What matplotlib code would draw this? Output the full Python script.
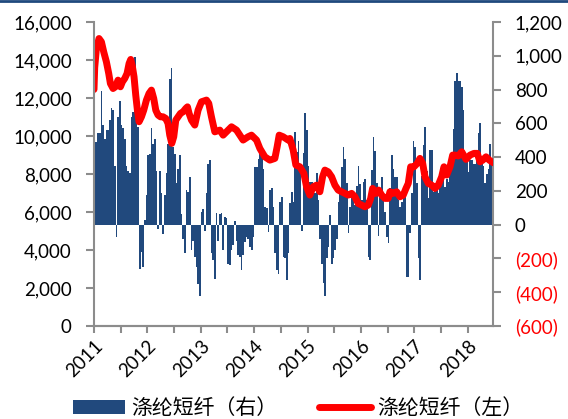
import matplotlib
matplotlib.use("Agg")
import matplotlib.pyplot as plt
import numpy as np
from matplotlib.lines import Line2D
from matplotlib.patches import Patch
from matplotlib.ticker import FuncFormatter, MultipleLocator

plt.rcParams['font.family'] = ['Lato', 'Noto Sans CJK SC', 'DejaVu Sans']

# bars (right axis), roughly weekly spacing from start of 2011
bar_v = [
    490, 490, 540, 540, 790, 590, 510, 560, 560, 620,
    690, 680, 350, -75, 640, 730, 590, 575, 510, 345,
    315, 305, 640, 670, 990, 660, 580, -260, -160, -250,
    25, 175, 410, 420, 570, 480, 510, 315, -25, 315,
    185, -55, 175, 305, 475, 860, 930, 460, 420, 245,
    330, 410, 65, -85, -170, 205, 195, 285, -150, -95,
    -190, -250, -350, -420, 75, 90, -35, 185, 360, 385,
    -170, -210, -320, 70, -95, 65, 70, -150, 45, 40,
    -230, -240, -150, -120, 20, -95, -180, -190, -270, -180,
    -100, -75, -85, -130, -150, -75, 340, 340, 390, 420,
    460, 330, 105, 100, -45, 205, 215, 105, -170, -270,
    -290, 135, 165, -190, -200, -330, -170, 130, 195, 135,
    550, 430, 495, 350, -40, 425, 660, 560, 350, 250,
    255, 245, 185, 305, 145, -85, -230, -345, -420, -200,
    -130, 55, -230, -200, -150, -85, 135, 185, 340, 460,
    390, 245, -50, 105, 155, 145, 115, 230, 350, 240,
    145, 250, 270, 145, -190, -210, 325, 520, 435, 245,
    -65, 195, 280, 155, 75, -75, -110, 215, 410, 330,
    280, 280, 145, 105, 135, 165, 195, -310, -310, -50,
    190, 495, 460, 245, -200, -330, 290, 470, 580, 320,
    155, 445, 445, 195, 205, 215, 185, 245, 280, 330,
    225, 270, 250, 320, 430, 565, 850, 900, 850, 850,
    815, 680, 380, 400, 310, 380, 380, 360, 360, 390,
    540, 600, 360, 350, 245, 300, 330, 480, 380,
]

# red line (left axis): time in years since 2011, price
line_t = [
    0.0, 0.013, 0.045, 0.094, 0.139, 0.182, 0.232, 0.276, 0.307, 0.357,
    0.401, 0.45, 0.495, 0.532, 0.576, 0.619, 0.657, 0.688, 0.72, 0.75,
    0.782, 0.813, 0.844, 0.889, 0.932, 0.982, 1.031, 1.076, 1.119, 1.157,
    1.2, 1.245, 1.294, 1.344, 1.387, 1.419, 1.457, 1.494, 1.532, 1.575,
    1.62, 1.669, 1.719, 1.751, 1.781, 1.826, 1.869,
    1.888, 1.95, 2.013, 2.107, 2.150, 2.2, 2.263, 2.357, 2.419, 2.512,
    2.576, 2.67, 2.793, 2.887, 2.95, 3.045, 3.107, 3.2, 3.294, 3.388,
    3.431, 3.469, 3.543, 3.637,
    3.669, 3.731, 3.781, 3.856, 3.931, 3.982, 4.044, 4.106, 4.169, 4.231,
    4.282, 4.325, 4.387, 4.451, 4.513, 4.574, 4.638, 4.7, 4.762, 4.826,
    4.888, 4.949, 5.013, 5.075, 5.137, 5.182, 5.219, 5.281, 5.332, 5.388,
    5.45, 5.512,
    5.544, 5.606, 5.669, 5.731, 5.793, 5.844, 5.887, 5.932, 5.994, 6.056,
    6.106, 6.157, 6.2, 6.262, 6.326, 6.387, 6.449, 6.513, 6.556, 6.607,
    6.669, 6.719, 6.762, 6.824, 6.888, 6.969, 7.044, 7.119, 7.18, 7.231,
    7.282, 7.344, 7.405, 7.48,
]
line_v = [
    12450, 13600, 14605, 15130, 14955, 14430, 13905, 13290, 12765, 12500,
    12590, 12940, 12590, 12850, 13030, 13290, 13815, 14030, 13640, 13115,
    12150, 11360, 10750, 11010, 11360, 11890, 12240, 12415, 11975, 11360,
    11100, 11010, 11010, 10925, 10660, 10045, 9610, 9960, 10835, 11010,
    11190, 11275, 11450, 11535, 11190, 10835, 10660,
    10575, 11360, 11800, 11890, 11715, 11010, 10220, 10310, 10045, 10310,
    10485, 10310, 9785, 9960, 10045, 9785, 9345, 8905, 8730, 8820,
    9435, 10045, 9960, 9785,
    9870, 9260, 8470, 8380, 8030, 7330, 6890, 7330, 7415, 7065,
    7855, 8205, 8115, 7855, 7415, 7155, 7065, 6980, 6890, 6980,
    6800, 6450, 6365, 6275, 6365, 6700, 7240, 6980, 7155, 6890,
    6715, 6715,
    7065, 6980, 7065, 6800, 6890, 7240, 7505, 8380, 8380, 8560,
    8820, 8560, 7855, 7505, 7415, 7240, 7415, 7855, 8380, 7945,
    8380, 8995, 8995, 8950, 9170, 8770, 8995, 9085, 9085, 8640,
    8730, 8905, 8730, 8590,
]

years = [2011, 2012, 2013, 2014, 2015, 2016, 2017, 2018]
label_bar = '涤纶短纤（右）'
label_line = '涤纶短纤（左）'

bar_color = '#21497D'
red = '#FF0000'
grey = '#8C8C8C'

x_end = 2011 + 7.48
step = 7.47 / len(bar_v)
bar_t = 2011 + (np.arange(len(bar_v)) + 0.5) * step
line_x = 2011 + np.array(line_t)

fig = plt.figure(figsize=(5.68, 4.19), dpi=100)
ax = fig.add_axes([94 / 568, 1 - 326 / 419, (493.3 - 94) / 568, (326 - 22) / 419])
ax2 = ax.twinx()

ax2.bar(bar_t, bar_v, width=step, color=bar_color, linewidth=0)
ax.plot(line_x, line_v, color=red, lw=5, solid_capstyle='round', solid_joinstyle='round')

ax.set_zorder(ax2.get_zorder() + 1)
ax.patch.set_visible(False)

ax.set_xlim(2011, x_end)
ax.set_ylim(0, 16000)
ax2.set_ylim(-600, 1200)
ax.set_yticks(range(0, 16001, 2000))
ax2.set_yticks(range(-600, 1201, 200))
ax.yaxis.set_major_formatter(FuncFormatter(lambda v, p: f'{v:,.0f}'))
ax2.yaxis.set_major_formatter(
    FuncFormatter(lambda v, p: f'{v:,.0f}' if v >= 0 else f'({-v:,.0f})'))

ax.set_xticks(years)
ax.set_xticklabels([str(y) for y in years], rotation=45, ha='right',
                   rotation_mode='anchor')
ax.xaxis.set_minor_locator(MultipleLocator(0.5))

for a in (ax, ax2):
    for s in a.spines.values():
        s.set_color(grey)
        s.set_linewidth(1.5)
    a.spines['top'].set_visible(False)
    a.tick_params(which='both', color=grey, width=1.5, length=5, labelsize=13.5)
ax.spines['right'].set_visible(False)
ax2.spines['left'].set_visible(False)
ax.tick_params(axis='y', length=6, pad=10)
ax2.tick_params(axis='y', length=5.5, pad=10)
ax.tick_params(axis='x', which='both', pad=3)

fig.canvas.draw()
for t, v in zip(ax2.get_yticklabels(), ax2.get_yticks()):
    t.set_color(red if v < 0 else 'black')

handles = [Patch(facecolor=bar_color, edgecolor='none'),
           Line2D([0], [0], color=red, lw=5, solid_capstyle='round')]
fig.legend(handles, [label_bar, label_line], loc='center',
           bbox_to_anchor=(0.525, 0.026), ncol=2, frameon=False,
           fontsize=15, handlelength=2.5, handletextpad=0.3, columnspacing=2.0)

fig.add_artist(Line2D([0, 1], [0.998, 0.998], color='#1F497D', lw=2,
                      transform=fig.transFigure))

fig.savefig('out.png', dpi=100)
